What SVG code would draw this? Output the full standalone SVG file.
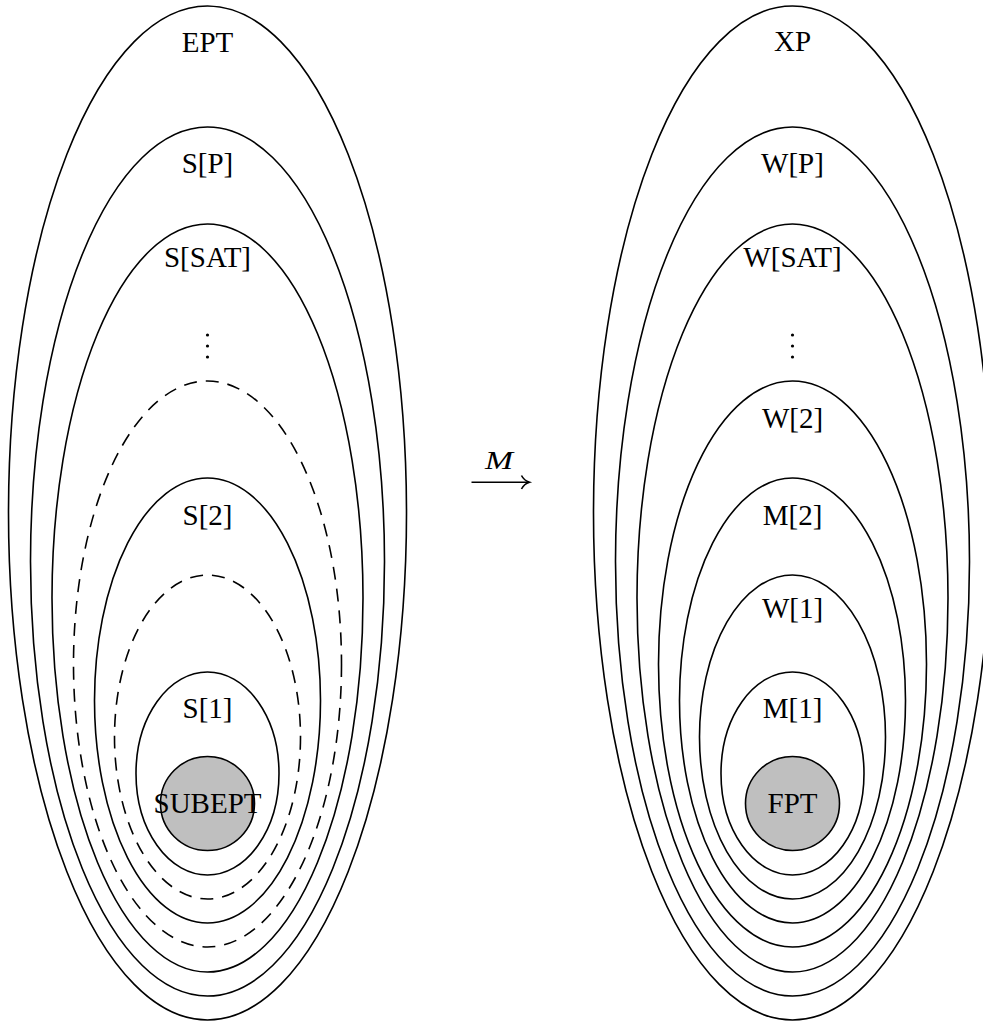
<svg xmlns="http://www.w3.org/2000/svg" width="983" height="1024" viewBox="0 0 983 1024">
<style>
.e{fill:none;stroke:#000;stroke-width:1.6}
.d{fill:none;stroke:#000;stroke-width:1.6;stroke-dasharray:13 9}
.c{fill:#bfbfbf;stroke:#000;stroke-width:1.6}
.t{font-family:"Liberation Serif","DejaVu Serif",serif;font-size:29px;fill:#000;text-anchor:middle}
.m{font-family:"Liberation Serif","DejaVu Serif",serif;font-size:25px;font-style:italic;fill:#000;text-anchor:middle}
.a{fill:none;stroke:#000;stroke-width:1.6}
</style>
<rect width="983" height="1024" fill="#fff"/>
<g id="left">
<g id="EPT"><ellipse class="e" cx="207.5" cy="513" rx="199" ry="507"/><text class="t" x="207.5" y="52">EPT</text></g>
<g id="SP"><ellipse class="e" cx="207.5" cy="561.5" rx="177" ry="434.5"/><text class="t" x="207.5" y="173">S[P]</text></g>
<g id="SSAT"><ellipse class="e" cx="207.5" cy="598" rx="155.5" ry="374"/><text class="t" x="207.5" y="267">S[SAT]</text></g>
<g id="ldots"><circle cx="207.5" cy="335" r="1.6"/><circle cx="207.5" cy="346" r="1.6"/><circle cx="207.5" cy="357" r="1.6"/></g>
<g id="Ldash1"><ellipse class="d" cx="207.5" cy="664" rx="134" ry="283"/></g>
<g id="S2"><ellipse class="e" cx="207.5" cy="700.5" rx="113" ry="222.5"/><text class="t" x="207.5" y="525">S[2]</text></g>
<g id="Ldash2"><ellipse class="d" cx="207.5" cy="737" rx="93" ry="162"/></g>
<g id="S1"><ellipse class="e" cx="207.5" cy="773.5" rx="71.5" ry="101.5"/><text class="t" x="207.5" y="718">S[1]</text></g>
<g id="SUBEPT"><circle class="c" cx="207.5" cy="803.5" r="47"/><text class="t" x="207.5" y="813">SUBEPT</text></g>
</g>
<g id="right">
<g id="XP"><ellipse class="e" cx="792.5" cy="513" rx="199" ry="507"/><text class="t" x="792.5" y="51">XP</text></g>
<g id="WP"><ellipse class="e" cx="792.5" cy="561.5" rx="177" ry="434.5"/><text class="t" x="792.5" y="173">W[P]</text></g>
<g id="WSAT"><ellipse class="e" cx="792.5" cy="598" rx="155.5" ry="374"/><text class="t" x="792.5" y="267">W[SAT]</text></g>
<g id="rdots"><circle cx="792.5" cy="335" r="1.6"/><circle cx="792.5" cy="346" r="1.6"/><circle cx="792.5" cy="357" r="1.6"/></g>
<g id="W2"><ellipse class="e" cx="792.5" cy="664" rx="134" ry="283"/><text class="t" x="792.5" y="428">W[2]</text></g>
<g id="M2"><ellipse class="e" cx="792.5" cy="700.5" rx="113" ry="222.5"/><text class="t" x="792.5" y="525">M[2]</text></g>
<g id="W1"><ellipse class="e" cx="792.5" cy="737" rx="93" ry="162"/><text class="t" x="792.5" y="618">W[1]</text></g>
<g id="M1"><ellipse class="e" cx="792.5" cy="773.5" rx="71.5" ry="101.5"/><text class="t" x="792.5" y="718">M[1]</text></g>
<g id="FPT"><circle class="c" cx="792.5" cy="803.5" r="47"/><text class="t" x="792.5" y="813">FPT</text></g>
</g>
<g id="connectors">
<path class="a" d="M471.5 482.3 H529"/>
<path class="a" d="M521.5 475.5 Q524 480.5 529.5 482.3 Q524 484 521.5 489"/>
<text class="m" x="499" y="469" textLength="28" lengthAdjust="spacingAndGlyphs">M</text>
</g>
</svg>
